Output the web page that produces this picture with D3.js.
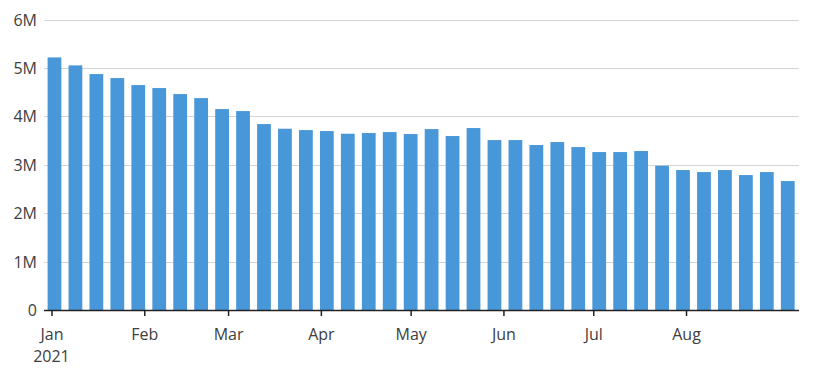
<!DOCTYPE html>
<html>
<head>
<meta charset="utf-8">
<script src="https://cdn.jsdelivr.net/npm/d3@7"></script>
<style>
  body { margin: 0; background: #fff; }
  svg text { font-family: "Open Sans", Lato, sans-serif; fill: #404040; }
</style>
</head>
<body>
<svg id="chart" width="813" height="375"></svg>
<script>
// weekly values, week ending on Saturday
var weekEnding = [
  "2021-01-02", "2021-01-09", "2021-01-16", "2021-01-23", "2021-01-30", "2021-02-06",
  "2021-02-13", "2021-02-20", "2021-02-27", "2021-03-06", "2021-03-13", "2021-03-20",
  "2021-03-27", "2021-04-03", "2021-04-10", "2021-04-17", "2021-04-24", "2021-05-01",
  "2021-05-08", "2021-05-15", "2021-05-22", "2021-05-29", "2021-06-05", "2021-06-12",
  "2021-06-19", "2021-06-26", "2021-07-03", "2021-07-10", "2021-07-17", "2021-07-24",
  "2021-07-31", "2021-08-07", "2021-08-14", "2021-08-21", "2021-08-28", "2021-09-04"
];
var claims = [
  5.217, 5.052, 4.873, 4.790, 4.646, 4.584,
  4.460, 4.377, 4.150, 4.109, 3.840, 3.744,
  3.716, 3.696, 3.641, 3.655, 3.675, 3.634,
  3.737, 3.593, 3.758, 3.510, 3.510, 3.407,
  3.469, 3.365, 3.262, 3.262, 3.283, 2.980,
  2.891, 2.849, 2.891, 2.787, 2.849, 2.663
];
var yTicks = [0, 1, 2, 3, 4, 5, 6];
var monthTicks = ["2021-01-01", "2021-02-01", "2021-03-01", "2021-04-01",
  "2021-05-01", "2021-06-01", "2021-07-01", "2021-08-01"];

var parse = d3.timeParse("%Y-%m-%d");
var data = weekEnding.map(function(d, i) {
  return { date: parse(d), value: claims[i] * 1e6 };
});

var svg = d3.select("#chart");
var plotLeft = 44, plotRight = 799, plotTop = 19.5, plotBottom = 310;

var x = d3.scaleTime()
  .domain([new Date(2020, 11, 29, 12), new Date(2021, 8, 7, 18)])
  .range([plotLeft, plotRight]);
var y = d3.scaleLinear()
  .domain([0, 6e6])
  .range([plotBottom, plotTop]);

var halfBar = 2.3 * 864e5;

// gridlines
svg.append("g").selectAll("line")
  .data(yTicks.slice(1))
  .enter().append("line")
  .attr("x1", plotLeft).attr("x2", plotRight)
  .attr("y1", function(d) { return Math.round(y(d * 1e6)) + 0.5; })
  .attr("y2", function(d) { return Math.round(y(d * 1e6)) + 0.5; })
  .attr("stroke", "#d4d4d4").attr("stroke-width", 1);

// y labels
svg.append("g").selectAll("text")
  .data(yTicks)
  .enter().append("text")
  .attr("x", 37)
  .attr("y", function(d) { return y(d * 1e6); })
  .attr("dy", "0.38em")
  .attr("text-anchor", "end")
  .style("font-size", "16px")
  .text(function(d) { return d === 0 ? "0" : d + "M"; });

// bars
svg.append("g").selectAll("rect")
  .data(data)
  .enter().append("rect")
  .attr("x", function(d) { return x(new Date(+d.date - halfBar)); })
  .attr("width", function(d) { return x(new Date(+d.date + halfBar)) - x(new Date(+d.date - halfBar)); })
  .attr("y", function(d) { return y(d.value); })
  .attr("height", function(d) { return y(0) - y(d.value); })
  .attr("fill", "#4897d8");

// x axis
var xAxis = d3.axisBottom(x)
  .tickValues(monthTicks.map(parse))
  .tickSize(6)
  .tickFormat(d3.timeFormat("%b"));

var gx = svg.append("g")
  .attr("transform", "translate(0," + plotBottom + ")")
  .call(xAxis);
gx.select(".domain").attr("d", "M" + plotLeft + ",0.5H" + plotRight).attr("stroke", "#222").attr("stroke-width", 1.5);
gx.selectAll(".tick line").attr("stroke", "#222").attr("stroke-width", 1.5);
gx.selectAll(".tick text")
  .attr("y", 30)
  .attr("dy", null)
  .style("font-size", "16px")
  .style("font-family", "'Open Sans', Lato, sans-serif")
  .attr("fill", "#404040");

svg.append("text")
  .attr("x", x(parse("2021-01-01")))
  .attr("y", 362)
  .attr("text-anchor", "middle")
  .style("font-size", "16px")
  .text("2021");
</script>
</body>
</html>
